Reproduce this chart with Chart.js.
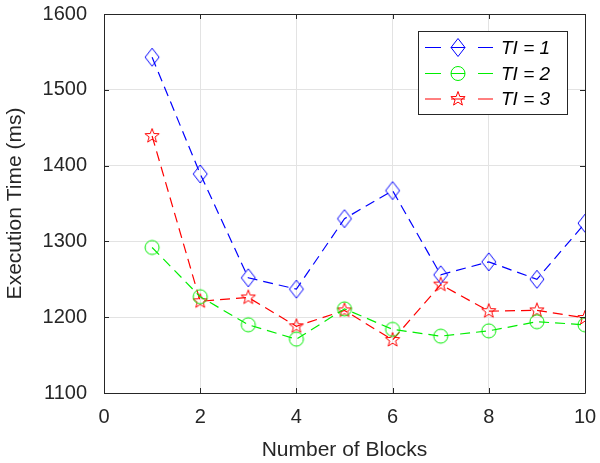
<!DOCTYPE html>
<html>
<head>
<meta charset="utf-8">
<script src="https://cdn.jsdelivr.net/npm/chart.js@4/dist/chart.umd.min.js"></script>
<style>
html,body{margin:0;padding:0;background:#fff;}
#wrap{width:600px;height:463px;position:relative;}
</style>
</head>
<body>
<div id="wrap"><canvas id="c" width="600" height="463"></canvas></div>
<script>
const blocks = [1, 2, 3, 4, 5, 6, 7, 8, 9, 10];
const ti1 = [1543, 1389, 1252, 1237, 1330, 1367, 1256, 1273, 1250, 1324];
const ti2 = [1292, 1227, 1190, 1171, 1211, 1184, 1175, 1182, 1194, 1190];
const ti3 = [1439, 1221, 1226, 1188, 1209, 1170, 1243, 1208, 1209, 1199];
const seriesLabels = ['TI = 1', 'TI = 2', 'TI = 3'];
const xTicks = [0, 2, 4, 6, 8, 10];
const yTicks = [1100, 1200, 1300, 1400, 1500, 1600];

const FONT = '"Liberation Sans", Arial, Helvetica, sans-serif';
const TXT = '#262626';

function drawMarker(ctx, type, color, cx, cy) {
  ctx.save();
  ctx.strokeStyle = color;
  ctx.lineWidth = 1;
  ctx.beginPath();
  if (type === 'diamond') {
    ctx.moveTo(cx, cy - 9); ctx.lineTo(cx + 7, cy); ctx.lineTo(cx, cy + 9); ctx.lineTo(cx - 7, cy); ctx.closePath();
  } else if (type === 'circle') {
    ctx.arc(cx, cy, 7, 0, Math.PI * 2);
  } else {
    const R = 7.5, r = 3.1;
    for (let i = 0; i < 10; i++) {
      const a = -Math.PI / 2 + i * Math.PI / 5;
      const rr = i % 2 === 0 ? R : r;
      const px = cx + rr * Math.cos(a), py = cy + rr * Math.sin(a);
      if (i === 0) ctx.moveTo(px, py); else ctx.lineTo(px, py);
    }
    ctx.closePath();
  }
  ctx.stroke();
  ctx.restore();
}
function markerImage(type, color) {
  const c = document.createElement('canvas');
  c.width = 24; c.height = 24;
  drawMarker(c.getContext('2d'), type, color, 12, 12);
  return c;
}

const styles = [
  {color: '#0000ff', marker: 'diamond'},
  {color: '#00ee00', marker: 'circle'},
  {color: '#ff0000', marker: 'star'}
];
const seriesData = [ti1, ti2, ti3];

const datasets = seriesData.map((vals, i) => ({
  label: seriesLabels[i],
  data: blocks.map((b, j) => ({x: b, y: vals[j]})),
  borderColor: styles[i].color,
  backgroundColor: styles[i].color,
  borderWidth: 1.2,
  borderDash: [10, 6],
  pointStyle: markerImage(styles[i].marker, styles[i].color),
  pointRadius: 7,
  tension: 0,
  fill: false
}));

const framePlugin = {
  id: 'frame',
  afterDatasetsDraw(chart) {
    const {ctx, chartArea: a, scales} = chart;
    ctx.save();
    ctx.strokeStyle = TXT;
    ctx.lineWidth = 1;
    ctx.beginPath();
    ctx.rect(Math.round(a.left) + 0.5, Math.round(a.top) + 0.5, Math.round(a.right - a.left), Math.round(a.bottom - a.top));
    ctx.stroke();
    ctx.beginPath();
    xTicks.forEach(t => {
      const x = Math.round(scales.x.getPixelForValue(t)) + 0.5;
      ctx.moveTo(x, a.bottom); ctx.lineTo(x, a.bottom - 5);
      ctx.moveTo(x, a.top); ctx.lineTo(x, a.top + 5);
    });
    yTicks.forEach(t => {
      const y = Math.round(scales.y.getPixelForValue(t)) + 0.5;
      ctx.moveTo(a.left, y); ctx.lineTo(a.left + 5, y);
      ctx.moveTo(a.right, y); ctx.lineTo(a.right - 5, y);
    });
    ctx.stroke();
    // legend
    const bx = 418.5, by = 31.5, bw = 149, bh = 83;
    ctx.fillStyle = '#fff';
    ctx.fillRect(bx, by, bw, bh);
    ctx.strokeStyle = TXT;
    ctx.strokeRect(bx, by, bw, bh);
    const rows = [47.5, 73.5, 99];
    chart.data.datasets.forEach((ds, i) => {
      const y = rows[i];
      ctx.strokeStyle = styles[i].color;
      ctx.lineWidth = 1;
      ctx.beginPath();
      [[425, 441], [451, 465], [478, 493]].forEach(s => { ctx.moveTo(s[0], y); ctx.lineTo(s[1], y); });
      ctx.stroke();
      drawMarker(ctx, styles[i].marker, styles[i].color, 458, y);
      ctx.fillStyle = '#000';
      ctx.font = 'italic 19px ' + FONT;
      ctx.textAlign = 'left';
      ctx.textBaseline = 'middle';
      ctx.fillText(ds.label, 501, y + 1);
    });
    ctx.restore();
  }
};

function zeroPad(s) { s.paddingTop = 0; s.paddingBottom = 0; s.paddingLeft = 0; s.paddingRight = 0; }

new Chart(document.getElementById('c'), {
  type: 'line',
  data: {datasets},
  options: {
    responsive: false,
    animation: false,
    layout: {autoPadding: false, padding: {left: 0, right: 15, top: 14, bottom: 0}},
    plugins: {legend: {display: false}, tooltip: {enabled: false}},
    scales: {
      x: {
        type: 'linear', min: 0, max: 10,
        afterBuildTicks(s) { s.ticks = xTicks.map(v => ({value: v})); },
        afterFit(s) { s.height = 70; zeroPad(s); },
        grid: {color: '#e3e3e3', drawTicks: false, lineWidth: 1},
        border: {display: false},
        ticks: {color: TXT, font: {family: FONT, size: 20}, padding: 12, callback: v => String(v)},
        title: {display: true, text: 'Number of Blocks', color: TXT, font: {family: FONT, size: 21}, padding: {top: 4, bottom: 0}}
      },
      y: {
        type: 'linear', min: 1100, max: 1600,
        afterBuildTicks(s) { s.ticks = yTicks.map(v => ({value: v})); },
        afterFit(s) { s.width = 104; zeroPad(s); },
        grid: {color: '#e3e3e3', drawTicks: false, lineWidth: 1},
        border: {display: false},
        ticks: {color: TXT, font: {family: FONT, size: 20}, padding: 17, callback: v => String(v)},
        title: {display: true, text: 'Execution Time (ms)', color: TXT, font: {family: FONT, size: 21}, padding: {top: 3, bottom: 0}}
      }
    }
  },
  plugins: [framePlugin]
});
</script>
</body>
</html>
